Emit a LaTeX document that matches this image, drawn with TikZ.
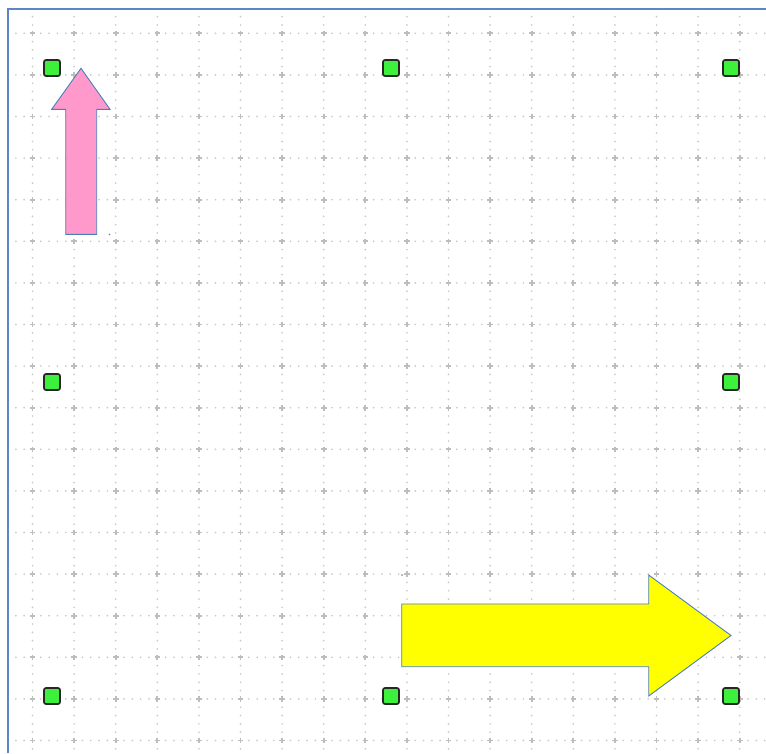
\documentclass[tikz,border=0pt]{standalone}
\usepackage{xcolor}
\usepackage{tikz}
\definecolor{frameblue}{HTML}{5B87C5}
\definecolor{outlineblue}{HTML}{4A7EBB}
\definecolor{gridgray}{HTML}{C8C8C8}
\definecolor{crossgray}{HTML}{BDBDBD}
\definecolor{handlegreen}{HTML}{3CF03C}
\definecolor{arrowpink}{HTML}{FF99CC}
\definecolor{arrowyellow}{HTML}{FFFF00}

\begin{document}
\begin{tikzpicture}[
  x=1pt, y=-1pt,
  gridline/.style={gridgray, line width=1.9pt, line cap=round, dash pattern=on 0pt off 8.32pt},
  crossmark/.style={crossgray, line width=1.8pt},
  handle/.style={draw=black!85, fill=handlegreen, line width=1.7pt, rounded corners=2pt,
                 minimum size=16pt, inner sep=0pt},
  blockarrow/.style={draw=outlineblue, line width=0.9pt, line join=miter},
]
\useasboundingbox (0,0) rectangle (766,753);

% Dotted grid
\begin{scope}
\clip (9,10) rectangle (766,753);
\foreach \i in {0,...,17} {
  \draw[gridline] (32.5+41.6*\i, 33.3-4*8.32) -- (32.5+41.6*\i, 753);
  \draw[gridline] (32.5-4*8.32, 33.3+41.6*\i) -- (766, 33.3+41.6*\i);
}
\foreach \i in {0,...,17} {
  \foreach \j in {0,...,17} {
    \draw[crossmark] (32.5+41.6*\i-2.8, 33.3+41.6*\j) -- (32.5+41.6*\i+2.8, 33.3+41.6*\j)
                     (32.5+41.6*\i, 33.3+41.6*\j-2.8) -- (32.5+41.6*\i, 33.3+41.6*\j+2.8);
  }
}
\end{scope}

% Frame
\draw[frameblue, line width=2.6pt] (8,753) -- (8,9) -- (766,9);

% Up arrow
\draw[blockarrow, fill=arrowpink] (65.7,234.3) -- (65.7,109.3) -- (51.7,109.3) -- (81,68.3)
  -- (110,109.3) -- (96.7,109.3) -- (96.7,234.3) -- cycle;

% Right arrow
\draw[blockarrow, fill=arrowyellow] (401.7,604) -- (648.7,604) -- (648.7,575) -- (731,635.5)
  -- (648.7,696) -- (648.7,666.7) -- (401.7,666.7) -- cycle;

% Corner points
\fill[outlineblue] (109.5,234.5) circle (0.8);
\fill[outlineblue] (402,575) circle (0.8);

% Handles
\node[handle] (handleNW) at (52,68) {};
\node[handle] (handleN) at (391,68) {};
\node[handle] (handleNE) at (731,68) {};
\node[handle] (handleW) at (52,382) {};
\node[handle] (handleE) at (731,382) {};
\node[handle] (handleSW) at (52,696) {};
\node[handle] (handleS) at (391,696) {};
\node[handle] (handleSE) at (731,696) {};

\end{tikzpicture}
\end{document}
